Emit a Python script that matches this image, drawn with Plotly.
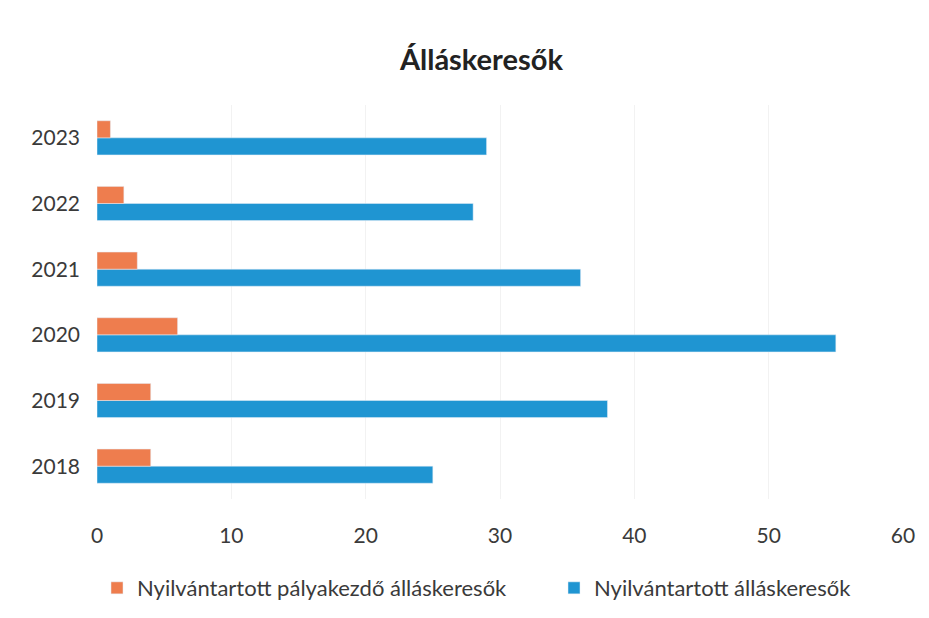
import plotly.graph_objects as go

years = ["2018", "2019", "2020", "2021", "2022", "2023"]
palyakezdo = [4, 4, 6, 3, 2, 1]
osszes = [25, 38, 55, 36, 28, 29]

fig = go.Figure()

# blue first so it sits below the orange bar in each group
fig.add_trace(go.Bar(y=years, x=osszes, orientation="h",
                     name="Nyilvántartott álláskeresők",
                     marker_color="#1F95D2", legend="legend2"))
fig.add_trace(go.Bar(y=years, x=palyakezdo, orientation="h",
                     name="Nyilvántartott pályakezdő álláskeresők",
                     marker_color="#EE7D4E", legend="legend"))

leg = dict(orientation="h", xanchor="left", yanchor="middle", y=-0.226,
           font=dict(size=22), itemwidth=30, bgcolor="rgba(0,0,0,0)")

# page body has an 8px margin, so the figure is sized to fit the window
fig.update_layout(
    width=921, height=610,
    barmode="group", bargap=0.48, bargroupgap=0,
    plot_bgcolor="white", paper_bgcolor="white",
    font=dict(family="Lato, Open Sans, sans-serif", size=21, color="#3a3a3a"),
    title=dict(text="<b>Álláskeresők</b>", x=0.514, xanchor="center",
               y=0.915, yanchor="middle",
               font=dict(size=29, color="#222222")),
    margin=dict(l=89, r=26, t=97, b=119, autoexpand=False),
    legend=dict(leg, x=0.0),
    legend2=dict(leg, x=0.567),
    showlegend=True,
)
fig.update_xaxes(range=[0, 60], dtick=10, showgrid=True, gridcolor="#f2f2f2",
                 zeroline=False, ticks="", ticklabelstandoff=22, automargin=False)
fig.update_yaxes(showgrid=False, ticks="", ticklabelstandoff=16, automargin=False)

fig.write_html("out.html")
